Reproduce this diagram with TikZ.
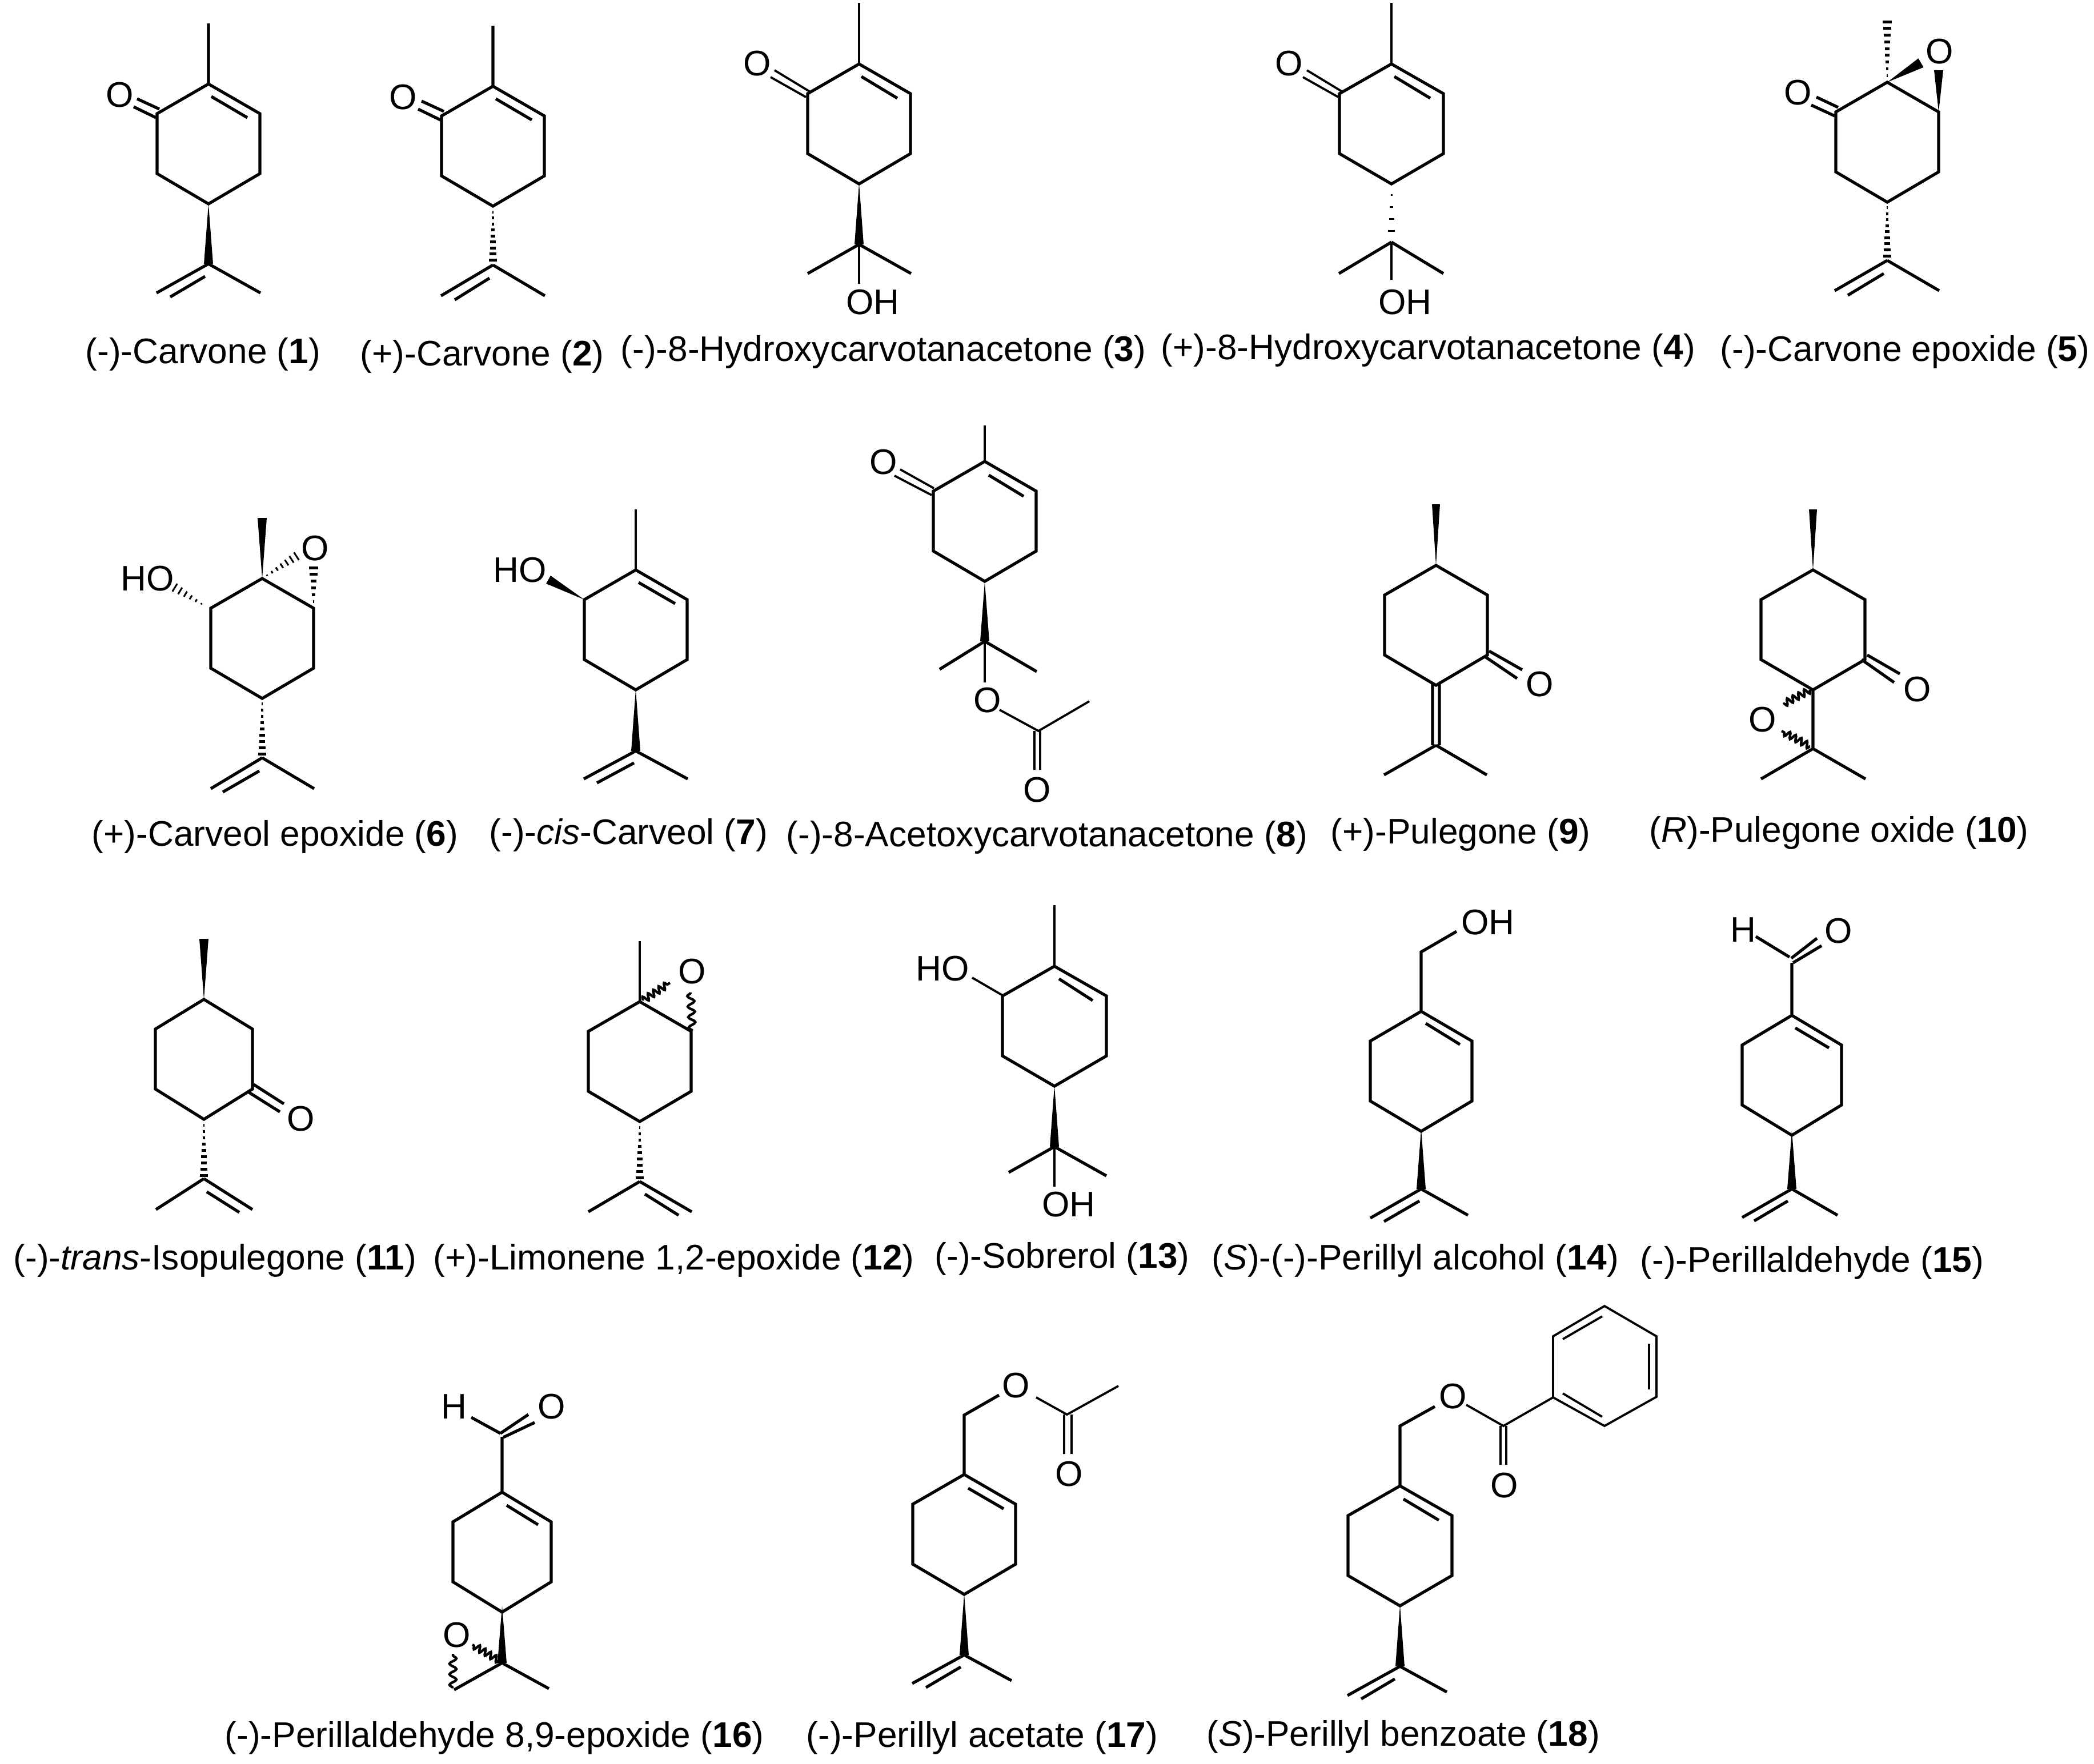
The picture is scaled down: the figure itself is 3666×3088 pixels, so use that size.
\documentclass[tikz,border=0pt]{standalone}
\usepackage{fontspec}
\setmainfont{Liberation Sans}
\usetikzlibrary{decorations.pathmorphing}
\newcommand{\textsz}{\fontsize{15.55}{18}\selectfont}
\tikzset{
  bond/.style={line width=1.3pt,line join=miter},
  thinbond/.style={line width=0.95pt},
  hashline/.style={line width=1.25pt},
  hashthin/.style={hashline/.style={line width=0.75pt}},
  wavebond/.style={line width=1.1pt,decorate,decoration={snake,amplitude=1.5pt,segment length=4.6pt}},
  wavetight/.style={line width=1.1pt,decorate,decoration={snake,amplitude=1.4pt,segment length=2.8pt}},
  atom/.style={inner sep=0pt,font=\textsz},
  cpdname/.style={inner sep=0pt,anchor=base west,font=\textsz}
}
\newcommand{\ringbonds}[3]{\draw[bond] (#1,#2) -- (#1+#3,#2+52) -- (#1+#3,#2+157) -- (#1,#2+210) -- (#1-#3,#2+157) -- (#1-#3,#2+52) -- cycle;}
\newcommand{\wedgebond}[5]{%
  \pgfmathsetmacro{\blen}{veclen(#3-#1,#4-#2)}
  \pgfmathsetmacro{\nrmx}{-(#4-#2)/\blen*#5}
  \pgfmathsetmacro{\nrmy}{(#3-#1)/\blen*#5}
  \fill (#1,#2) -- (#3+\nrmx,#4+\nrmy) -- (#3-\nrmx,#4-\nrmy) -- cycle;}
\newcommand{\hashbond}[6]{%
  \pgfmathsetmacro{\blen}{veclen(#3-#1,#4-#2)}
  \pgfmathsetmacro{\nrmx}{-(#4-#2)/\blen*#5}
  \pgfmathsetmacro{\nrmy}{(#3-#1)/\blen*#5}
  \foreach \i in {1,...,#6} {
    \pgfmathsetmacro{\hfrac}{\i/#6}
    \pgfmathsetmacro{\xa}{#1+(#3-#1)*\hfrac}
    \pgfmathsetmacro{\ya}{#2+(#4-#2)*\hfrac}
    \draw[hashline] (\xa+\nrmx*\hfrac,\ya+\nrmy*\hfrac) -- (\xa-\nrmx*\hfrac,\ya-\nrmy*\hfrac);
  }}
\begin{document}
\begin{tikzpicture}[x=0.25pt,y=-0.25pt]
\useasboundingbox (0,0) rectangle (3666,3088);
\fill[white] (0,0) rectangle (3666,3088);
\ringbonds{365}{147}{90}
\draw[bond] (365,147) -- (365,41) (370,169) -- (433,206) (240,173) -- (279,191) (234,187) -- (273,206);
\draw[bond] (365,462) -- (274,513) (365,462) -- (456,513) (298,520) -- (359,484);
\wedgebond{365}{357}{365}{462}{8}
\node[atom] (o1) at (210,166) {O};
\node[cpdname] (name1) at (149,636) {(-)-Carvone (\textbf{1})};
\ringbonds{863}{151}{90}
\draw[bond] (863,151) -- (863,45) (868,173) -- (931,210) (738,177) -- (777,195) (732,191) -- (771,210);
\draw[bond] (863,464) -- (772,518) (863,464) -- (954,518) (796,525) -- (857,487);
\hashbond{863}{361}{863}{455}{7}{9}
\node[atom] (o2) at (706,170) {O};
\node[cpdname] (name2) at (630,640) {(+)-Carvone (\textbf{2})};
\ringbonds{1504}{112}{90}
\draw[thinbond] (1504,112) -- (1504,5) (1504,428) -- (1504,497) (1356,123) -- (1417,160) (1349,135) -- (1411,170);
\draw[bond] (1508,134) -- (1571,172) (1504,428) -- (1414,479) (1504,428) -- (1595,479);
\wedgebond{1504}{321}{1504}{428}{8}
\node[atom] (o3) at (1326,111) {O};
\node[atom] (oh3) at (1528,529) {OH};
\node[cpdname] (name3) at (1086,632) {(-)-8-Hydroxycarvotanacetone (\textbf{3})};
\ringbonds{2436}{112}{91}
\draw[thinbond] (2436,112) -- (2436,5) (2436,424) -- (2436,490) (2288,123) -- (2349,160) (2281,135) -- (2343,170);
\draw[bond] (2441,134) -- (2504,172) (2436,424) -- (2344,479) (2436,424) -- (2527,479);
\begin{scope}[hashthin]
\hashbond{2436}{321}{2436}{404}{6}{4}
\end{scope}
\node[atom] (o4) at (2257,111) {O};
\node[atom] (oh4) at (2460,529) {OH};
\node[cpdname] (name4) at (2032,629) {(+)-8-Hydroxycarvotanacetone (\textbf{4})};
\ringbonds{3304}{144}{90}
\draw[bond] (3180,170) -- (3218,188) (3171,184) -- (3212,203);
\draw[bond] (3304,456) -- (3212,509) (3304,456) -- (3395,509) (3235,517) -- (3298,479);
\hashbond{3304}{144}{3304}{38}{8}{9}
\wedgebond{3304}{144}{3363}{110}{9}
\wedgebond{3394}{196}{3394}{123}{8}
\hashbond{3304}{353}{3304}{448}{7}{9}
\node[atom] (o5a) at (3396,90) {O};
\node[atom] (o5b) at (3148,162) {O};
\node[cpdname] (name5) at (3011,632) {(-)-Carvone epoxide (\textbf{5})};
\ringbonds{459}{1013}{90}
\draw[bond] (459,1327) -- (369,1381) (459,1327) -- (550,1381) (390,1387) -- (454,1350);
\wedgebond{459}{1013}{459}{907}{8}
\begin{scope}[hashthin]
\hashbond{459}{1013}{519}{974}{8}{7}
\hashbond{362}{1063}{306}{1029}{8}{6}
\end{scope}
\hashbond{549}{1065}{549}{994}{8}{6}
\hashbond{459}{1222}{459}{1320}{7}{9}
\node[atom] (o6) at (552,960) {O};
\node[atom] (ho6) at (258,1013) {HO};
\node[cpdname] (name6) at (160,1481) {(+)-Carveol epoxide (\textbf{6})};
\ringbonds{1113}{998}{90}
\draw[thinbond] (1113,998) -- (1113,892);
\draw[bond] (1118,1020) -- (1182,1057) (1113,1315) -- (1022,1364) (1113,1315) -- (1204,1364) (1045,1371) -- (1110,1336);
\wedgebond{1113}{1207}{1113}{1315}{8}
\wedgebond{1023}{1050}{960}{1015}{8}
\node[atom] (ho7) at (910,998) {HO};
\node[cpdname] (name7) at (856,1478) {(-)-\textit{cis}-Carveol (\textbf{7})};
\ringbonds{1724}{808}{90}
\draw[thinbond] (1724,808) -- (1724,745) (1724,1123) -- (1724,1195) (1576,822) -- (1635,855) (1566,833) -- (1631,867);
\draw[thinbond] (1750,1243) -- (1818,1280) -- (1907,1228) (1811,1280) -- (1811,1348) (1821,1280) -- (1821,1348);
\draw[bond] (1731,832) -- (1792,869) (1724,1123) -- (1645,1172) (1724,1123) -- (1815,1176);
\wedgebond{1724}{1019}{1724}{1123}{8}
\node[atom] (o8a) at (1547,809) {O};
\node[atom] (o8b) at (1729,1226) {O};
\node[atom] (o8c) at (1816,1383) {O};
\node[cpdname] (name8) at (1376,1482) {(-)-8-Acetoxycarvotanacetone (\textbf{8})};
\ringbonds{2514}{990}{90}
\draw[bond] (2607,1140) -- (2665,1173) (2600,1150) -- (2656,1188);
\draw[bond] (2508,1198) -- (2508,1305) (2520,1198) -- (2520,1305) (2514,1305) -- (2423,1357) (2514,1305) -- (2603,1357);
\wedgebond{2514}{990}{2514}{883}{7}
\node[atom] (o9) at (2696,1198) {O};
\node[cpdname] (name9) at (2329,1477) {(+)-Pulegone (\textbf{9})};
\ringbonds{3174}{998}{91}
\draw[bond] (3269,1147) -- (3326,1180) (3259,1155) -- (3316,1195);
\draw[bond] (3174,1206) -- (3174,1311) -- (3083,1364) (3174,1311) -- (3266,1364);
\wedgebond{3174}{998}{3174}{892}{7}
\draw[wavetight] (3169,1208) -- (3122,1233);
\draw[wavetight] (3169,1307) -- (3119,1280);
\node[atom] (o10a) at (3357,1207) {O};
\node[atom] (o10b) at (3086,1260) {O};
\node[cpdname] (name10) at (2887,1474) {(\textit{R})-Pulegone oxide (\textbf{10})};
\ringbonds{357}{1750}{85}
\draw[bond] (444,1899) -- (497,1933) (436,1913) -- (490,1947);
\draw[bond] (357,2064) -- (273,2118) (357,2064) -- (442,2118) (362,2087) -- (419,2123);
\wedgebond{357}{1750}{357}{1644}{8}
\hashbond{357}{1960}{357}{2058}{7}{9}
\node[atom] (o11) at (527,1959) {O};
\node[cpdname] (name11) at (23,2223) {(-)-\textit{trans}-Isopulegone (\textbf{11})};
\ringbonds{1120}{1754}{90}
\draw[thinbond] (1120,1754) -- (1120,1648);
\draw[bond] (1120,2069) -- (1030,2122) (1120,2069) -- (1211,2122) (1129,2091) -- (1188,2128);
\draw[wavetight] (1125,1752) -- (1173,1721);
\draw[wavebond] (1212,1805) -- (1209,1738);
\hashbond{1120}{1964}{1120}{2062}{7}{9}
\node[atom] (o12) at (1212,1701) {O};
\node[cpdname] (name12) at (758,2223) {(+)-Limonene 1,2-epoxide (\textbf{12})};
\ringbonds{1846}{1692}{91}
\draw[thinbond] (1846,1692) -- (1846,1585) (1846,2008) -- (1846,2078) (1702,1712) -- (1757,1744);
\draw[bond] (1854,1714) -- (1913,1752) (1846,2008) -- (1766,2053) (1846,2008) -- (1937,2059);
\wedgebond{1846}{1901}{1846}{2008}{8}
\node[atom] (ho13) at (1650,1696) {HO};
\node[atom] (oh13) at (1871,2109) {OH};
\node[cpdname] (name13) at (1636,2220) {(-)-Sobrerol (\textbf{13})};
\ringbonds{2488}{1771}{89}
\draw[bond] (2488,1771) -- (2488,1667) -- (2550,1631) (2496,1792) -- (2556,1829);
\draw[bond] (2488,2082) -- (2399,2133) (2488,2082) -- (2570,2128) (2423,2139) -- (2485,2103);
\wedgebond{2488}{1977}{2488}{2082}{8}
\node[atom] (oh14) at (2605,1615) {OH};
\node[cpdname] (name14) at (2121,2223) {(\textit{S})-(-)-Perillyl alcohol (\textbf{14})};
\ringbonds{3137}{1778}{87}
\draw[bond] (3137,1778) -- (3137,1686) (3143,1800) -- (3202,1835) (3074,1640) -- (3133,1676);
\draw[bond] (3136,1678) -- (3181,1643) (3139,1686) -- (3189,1656);
\draw[bond] (3137,2082) -- (3050,2132) (3137,2082) -- (3217,2128) (3071,2138) -- (3130,2103);
\wedgebond{3137}{1980}{3137}{2082}{8}
\node[atom] (h15) at (3052,1628) {H};
\node[atom] (o15) at (3219,1630) {O};
\node[cpdname] (name15) at (2871,2227) {(-)-Perillaldehyde (\textbf{15})};
\ringbonds{879}{2613}{86}
\draw[bond] (879,2613) -- (879,2516) (887,2636) -- (942,2670) (825,2482) -- (876,2510);
\draw[bond] (876,2510) -- (925,2477) (881,2517) -- (936,2491);
\draw[bond] (879,2912) -- (795,2959) (879,2912) -- (961,2957);
\wedgebond{879}{2812}{879}{2912}{8}
\draw[wavetight] (874,2908) -- (827,2880);
\draw[wavebond] (793,2956) -- (793,2896);
\node[atom] (h16) at (795,2463) {H};
\node[atom] (o16a) at (966,2463) {O};
\node[atom] (o16b) at (800,2863) {O};
\node[cpdname] (name16) at (393,3059) {(-)-Perillaldehyde 8,9-epoxide (\textbf{16})};
\ringbonds{1688}{2582}{90}
\draw[bond] (1688,2582) -- (1688,2478) -- (1749,2443) (1695,2606) -- (1757,2642);
\draw[thinbond] (1814,2447) -- (1868,2477) -- (1958,2427) (1863,2477) -- (1863,2546) (1876,2477) -- (1876,2546);
\draw[bond] (1688,2898) -- (1597,2948) (1688,2898) -- (1771,2943) (1621,2955) -- (1682,2919);
\wedgebond{1688}{2791}{1688}{2898}{8}
\node[atom] (o17a) at (1779,2426) {O};
\node[atom] (o17b) at (1872,2581) {O};
\node[cpdname] (name17) at (1411,3059) {(-)-Perillyl acetate (\textbf{17})};
\ringbonds{2451}{2602}{91}
\draw[bond] (2451,2602) -- (2451,2497) -- (2512,2463) (2457,2625) -- (2519,2662);
\draw[thinbond] (2567,2460) -- (2632,2497) -- (2719,2447) (2627,2497) -- (2627,2565) (2637,2497) -- (2637,2565);
\draw[bond] (2451,2918) -- (2359,2969) (2451,2918) -- (2533,2963) (2383,2975) -- (2442,2940);
\wedgebond{2451}{2811}{2451}{2918}{8}
\draw[thinbond] (2719,2447) -- (2719,2340) -- (2809,2287) -- (2900,2340) -- (2900,2446) -- (2809,2497) -- cycle;
\draw[thinbond] (2736,2345) -- (2805,2305) (2887,2353) -- (2887,2433) (2736,2440) -- (2805,2481);
\node[atom] (o18a) at (2544,2445) {O};
\node[atom] (o18b) at (2634,2601) {O};
\node[cpdname] (name18) at (2112,3057) {(\textit{S})-Perillyl benzoate (\textbf{18})};
\end{tikzpicture}
\end{document}
